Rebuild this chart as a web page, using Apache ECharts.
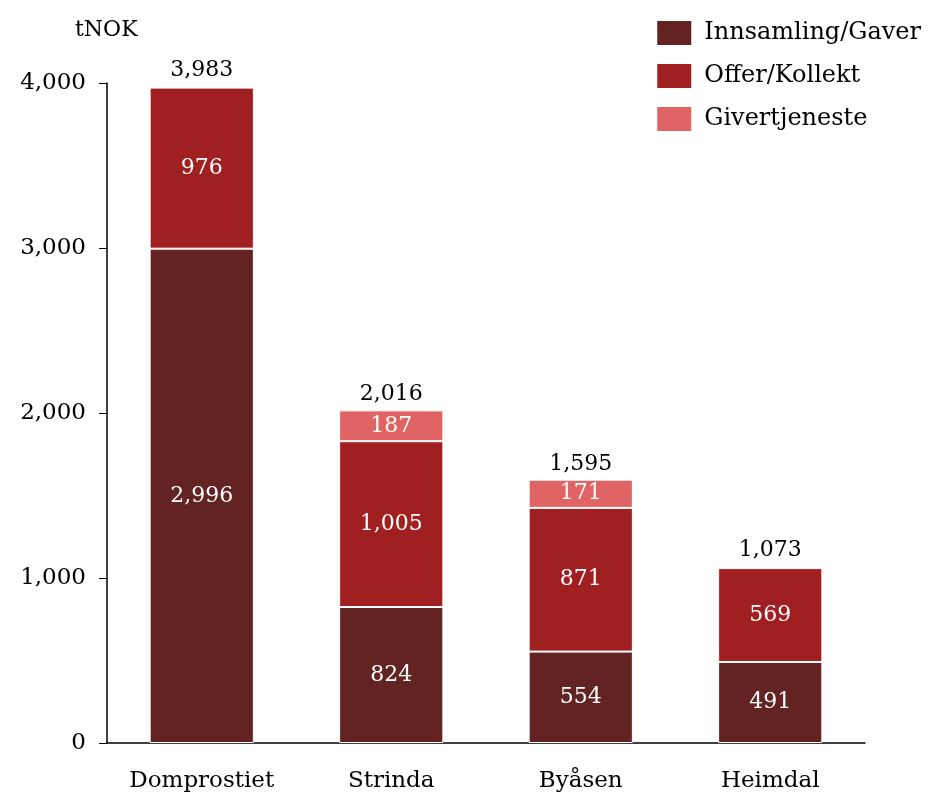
<html>
<head>
<script src="https://cdn.jsdelivr.net/npm/echarts@6/dist/echarts.min.js"></script>
<style>
    body { margin: 0; background: #fff; }
    #graph { width: 930px; height: 797px; }
</style>
</head>
<body>
<div id="graph"></div>
<script>
    var categories = ['Domprostiet', 'Strinda', 'Byåsen', 'Heimdal'];
    var innsamling = [2996, 824, 554, 491];
    var offer = [976, 1005, 871, 569];
    var givertjeneste = [null, 187, 171, null];
    var totals = [3983, 2016, 1595, 1073];
    var yTicks = [0, 1000, 2000, 3000, 4000];

    var font = 'DejaVu Serif';
    var fmt = function (v) { return v.toLocaleString('en-US'); };

    function seg(name, data, color) {
        return {
            name: name,
            type: 'bar',
            stack: 'total',
            barWidth: '55%',
            data: data,
            itemStyle: { color: color, borderColor: '#fff', borderWidth: 1 },
            label: {
                show: true,
                position: 'inside',
                color: '#fff',
                fontFamily: font,
                fontSize: 22,
                formatter: function (p) { return p.value ? fmt(p.value) : ''; }
            }
        };
    }

    var chart = echarts.init(document.getElementById('graph'));
    chart.setOption({
        animation: false,
        backgroundColor: '#fff',
        textStyle: { fontFamily: font },
        title: {
            text: 'tNOK',
            left: 70,
            top: 14,
            textStyle: { fontFamily: font, fontSize: 22, fontWeight: 'normal', color: '#000' }
        },
        legend: {
            data: ['Innsamling/Gaver', 'Offer/Kollekt', 'Givertjeneste'],
            orient: 'vertical',
            right: 4,
            top: 14,
            itemWidth: 36,
            itemHeight: 26,
            itemGap: 15,
            icon: 'rect',
            textStyle: { fontFamily: font, fontSize: 24, lineHeight: 26, color: '#000', padding: [0, 0, 0, 7] }
        },
        grid: { left: 107, right: 65, top: 83, bottom: 54 },
        xAxis: {
            type: 'category',
            data: categories,
            axisLine: { lineStyle: { color: '#000', width: 1.5 } },
            axisTick: { length: 10, lineStyle: { color: '#000' } },
            axisLabel: { color: '#000', fontFamily: font, fontSize: 23, margin: 27 }
        },
        yAxis: {
            type: 'value',
            min: yTicks[0],
            max: yTicks[yTicks.length - 1],
            interval: 1000,
            splitLine: { show: false },
            axisLine: { show: true, lineStyle: { color: '#000', width: 1.5 } },
            axisTick: { show: true, length: 8, lineStyle: { color: '#000' } },
            axisLabel: { color: '#000', fontFamily: font, fontSize: 23, margin: 21, formatter: fmt }
        },
        series: [
            seg('Innsamling/Gaver', innsamling, '#622322'),
            seg('Offer/Kollekt', offer, '#A02022'),
            seg('Givertjeneste', givertjeneste, '#E06464'),
            {
                name: 'Total',
                type: 'bar',
                barWidth: '55%',
                barGap: '-100%',
                data: totals,
                z: 0,
                itemStyle: { color: 'rgba(0,0,0,0)' },
                label: {
                    show: true,
                    position: 'top',
                    distance: 5,
                    color: '#000',
                    fontFamily: font,
                    fontSize: 22,
                    formatter: function (p) { return fmt(p.value); }
                }
            }
        ]
    });
</script>
</body>
</html>
